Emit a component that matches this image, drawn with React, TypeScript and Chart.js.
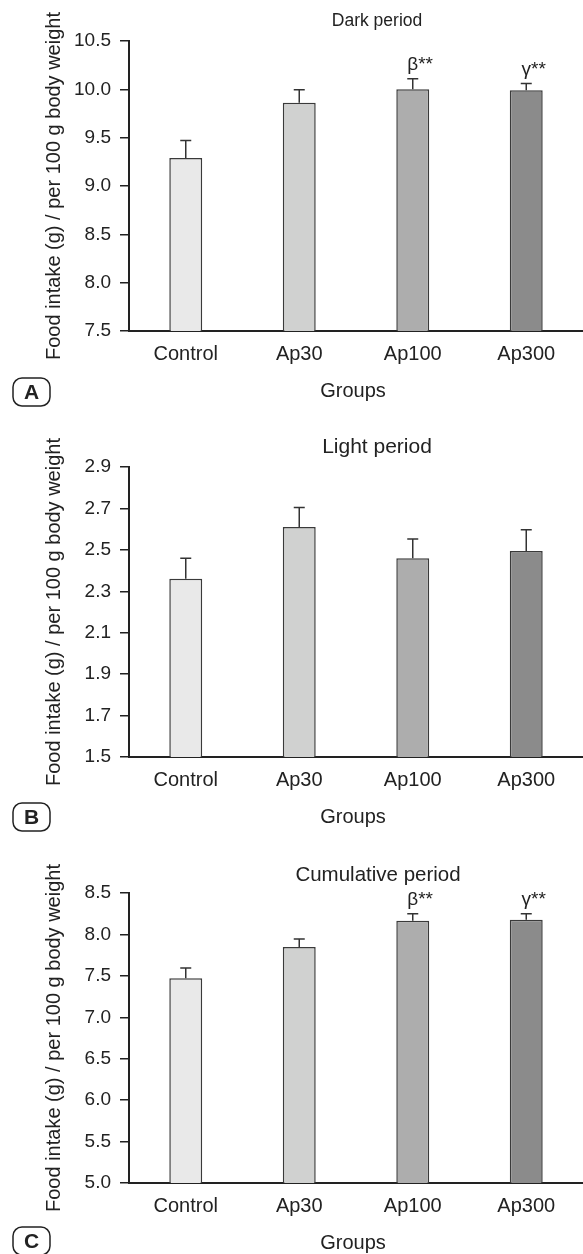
import React, { useEffect, useRef } from 'react';
import { Chart, registerables } from 'chart.js';

Chart.register(...registerables);
Chart.defaults.font.family = "'Liberation Sans', Arial, Helvetica, sans-serif";

const FONT = "'Liberation Sans', Arial, Helvetica, sans-serif";

// ---- data ----
const groups = ['Control', 'Ap30', 'Ap100', 'Ap300'];
const barColors = ['#e9e9e9', '#d0d1d0', '#adadad', '#8b8b8b'];
const yTitle = 'Food intake (g) / per 100 g body weight';
const xTitle = 'Groups';

const darkMeans = [9.29, 9.86, 10.0, 9.99];
const darkErrors = [0.18, 0.135, 0.11, 0.07];
const darkTicks = [7.5, 8.0, 8.5, 9.0, 9.5, 10.0, 10.5];
const darkMarks = ['', '', 'β**', 'γ**'];

const lightMeans = [2.36, 2.61, 2.46, 2.495];
const lightErrors = [0.099, 0.095, 0.093, 0.102];
const lightTicks = [1.5, 1.7, 1.9, 2.1, 2.3, 2.5, 2.7, 2.9];
const lightMarks = ['', '', '', ''];

const cumMeans = [7.47, 7.848, 8.165, 8.178];
const cumErrors = [0.125, 0.096, 0.085, 0.072];
const cumTicks = [5.0, 5.5, 6.0, 6.5, 7.0, 7.5, 8.0, 8.5];
const cumMarks = ['', '', 'β**', 'γ**'];

type PanelProps = {
  top: number;
  height: number;
  plotTop: number;
  plotBottom: number;
  title: string;
  titleSize: number;
  titleX: number;
  titleY: number;
  letter: string;
  boxY: number;
  means: number[];
  errors: number[];
  ticks: number[];
  marks: string[];
};

function Panel(p: PanelProps) {
  const ref = useRef<HTMLCanvasElement>(null);
  useEffect(() => {
    if (!ref.current) return;
    const textPlugin = {
      id: 'panelText',
      afterDatasetsDraw(chart: any) {
        const ctx = chart.ctx;
        const meta = chart.getDatasetMeta(0);
        const ys = chart.scales.y;
        ctx.save();
        // error bars
        ctx.strokeStyle = '#333';
        ctx.lineWidth = 1.5;
        meta.data.forEach((bar: any, i: number) => {
          const yTopPx = ys.getPixelForValue(p.means[i] + p.errors[i]);
          ctx.beginPath();
          ctx.moveTo(bar.x, bar.y);
          ctx.lineTo(bar.x, yTopPx);
          ctx.moveTo(bar.x - 5.5, yTopPx);
          ctx.lineTo(bar.x + 5.5, yTopPx);
          ctx.stroke();
          const mark = p.marks[i];
          if (mark) {
            ctx.fillStyle = '#222';
            ctx.font = `19px ${FONT}`;
            ctx.textAlign = 'left';
            ctx.textBaseline = 'alphabetic';
            const w0 = ctx.measureText(mark.charAt(0)).width;
            ctx.fillText(mark, bar.x - w0 / 2, yTopPx - 9);
          }
        });
        ctx.restore();
      },
      afterDraw(chart: any) {
        const ctx = chart.ctx;
        const ca = chart.chartArea;
        ctx.save();
        ctx.fillStyle = '#222';
        // title
        ctx.font = `${p.titleSize}px ${FONT}`;
        ctx.textAlign = 'center';
        ctx.textBaseline = 'middle';
        ctx.fillText(p.title, p.titleX, p.titleY);
        // x title
        ctx.font = `20px ${FONT}`;
        ctx.fillText(xTitle, 353, ca.bottom + 60);
        // y title
        ctx.save();
        ctx.translate(54, (ca.top + ca.bottom) / 2);
        ctx.rotate(-Math.PI / 2);
        ctx.fillText(yTitle, 0, 0);
        ctx.restore();
        // panel letter box
        const bx = 13, bw = 37, bh = 28, r = 9;
        ctx.strokeStyle = '#222';
        ctx.lineWidth = 1.5;
        ctx.beginPath();
        ctx.roundRect(bx, p.boxY, bw, bh, r);
        ctx.stroke();
        ctx.font = `bold 21px ${FONT}`;
        ctx.fillText(p.letter, bx + bw / 2, p.boxY + bh / 2 + 1);
        ctx.restore();
      },
    };
    const chart = new Chart(ref.current, {
      type: 'bar',
      data: {
        labels: groups,
        datasets: [
          {
            data: p.means,
            backgroundColor: barColors,
            borderColor: '#3a3a3a',
            borderWidth: 1.5,
            categoryPercentage: 1,
            barPercentage: 0.29,
          },
        ],
      },
      options: {
        animation: false,
        responsive: false,
        devicePixelRatio: 1,
        layout: { padding: { top: p.plotTop, left: 0, right: 0, bottom: 0 } },
        plugins: {
          legend: { display: false },
          tooltip: { enabled: false },
          title: { display: false },
        },
        scales: {
          x: {
            z: 1,
            grid: { display: false },
            border: { display: true, color: '#222', width: 2 },
            ticks: { color: '#222', font: { size: 20 }, padding: 3, maxRotation: 0, autoSkip: false },
            afterFit: (s: any) => {
              s.height = p.height - p.plotBottom;
            },
          },
          y: {
            min: p.ticks[0],
            max: p.ticks[p.ticks.length - 1],
            grid: {
              display: true,
              drawOnChartArea: false,
              drawTicks: true,
              tickLength: 9,
              color: '#222',
              lineWidth: 1.5,
            },
            border: { display: true, color: '#222', width: 2 },
            ticks: {
              color: '#222',
              font: { size: 19 },
              padding: 9,
              callback: (v: any) => Number(v).toFixed(1),
            },
            afterBuildTicks: (s: any) => {
              s.ticks = p.ticks.map((v) => ({ value: v }));
            },
            afterFit: (s: any) => {
              s.width = 129;
            },
          },
        },
      } as any,
      plugins: [textPlugin],
    });
    return () => chart.destroy();
  }, []);
  return (
    <canvas
      ref={ref}
      width={583}
      height={p.height}
      style={{ position: 'absolute', left: 0, top: p.top, display: 'block' }}
    />
  );
}

export default function App() {
  return (
    <div style={{ position: 'absolute', left: 0, top: 0, width: 583, height: 1254, background: '#fff', overflow: 'hidden' }}>
      <Panel
        top={0}
        height={420}
        plotTop={41}
        plotBottom={331}
        title="Dark period"
        titleSize={17.5}
        titleX={377}
        titleY={21}
        letter="A"
        boxY={378}
        means={darkMeans}
        errors={darkErrors}
        ticks={darkTicks}
        marks={darkMarks}
      />
      <Panel
        top={420}
        height={420}
        plotTop={47}
        plotBottom={337}
        title="Light period"
        titleSize={21}
        titleX={377}
        titleY={27}
        letter="B"
        boxY={383}
        means={lightMeans}
        errors={lightErrors}
        ticks={lightTicks}
        marks={lightMarks}
      />
      <Panel
        top={840}
        height={414}
        plotTop={53}
        plotBottom={343}
        title="Cumulative period"
        titleSize={20.5}
        titleX={378}
        titleY={35}
        letter="C"
        boxY={387}
        means={cumMeans}
        errors={cumErrors}
        ticks={cumTicks}
        marks={cumMarks}
      />
    </div>
  );
}
